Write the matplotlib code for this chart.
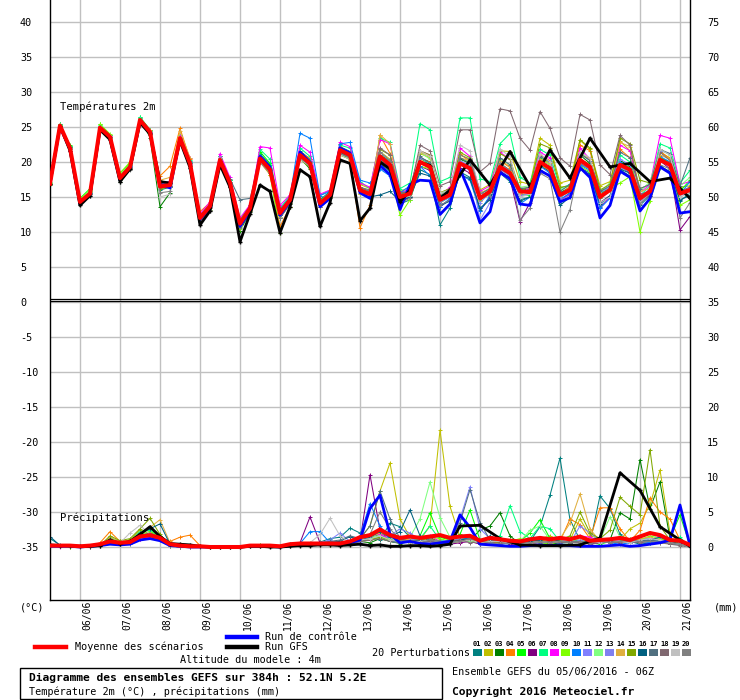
import matplotlib
matplotlib.use("Agg")
import matplotlib.pyplot as plt
from matplotlib.transforms import blended_transform_factory
from matplotlib.patches import Rectangle
from matplotlib.lines import Line2D

# ---------------- DATA ----------------
hours = list(range(0, 385, 6))                      # 65 steps, 6-hourly
gfs_t_hours = list(range(0, 241, 6)) + list(range(252, 385, 12))
gfs_p_hours = list(range(0, 241, 6)) + list(range(246, 379, 12)) + [384]

date_labels = ["06/06", "07/06", "08/06", "09/06", "10/06", "11/06", "12/06", "13/06",
               "14/06", "15/06", "16/06", "17/06", "18/06", "19/06", "20/06", "21/06"]
date_hours = [18 + 24 * i for i in range(16)]

pert_names = ["01", "02", "03", "04", "05", "06", "07", "08", "09", "10",
              "11", "12", "13", "14", "15", "16", "17", "18", "19", "20"]
pert_colors = ['#008080', '#c0c000', '#008000', '#ff8000', '#00ff00', '#800080', '#00ff80',
               '#ff00ff', '#80ff00', '#0080ff', '#8080ff', '#80ff80', '#8080f0', '#e0b040',
               '#80a800', '#006080', '#507080', '#806870', '#c0c0c0', '#808080']

t_mean = [16.9, 25.2, 22.0, 14.3, 15.5, 24.9, 23.6, 17.7, 19.3, 26.0, 24.3,
          16.5, 16.7, 23.4, 19.8, 12.0, 13.7, 20.3, 17.0, 11.2, 13.4,
          20.5, 18.9, 12.7, 14.6, 21.0, 19.8, 14.1, 15.3, 21.7, 21.0, 16.0, 15.4,
          20.8, 19.6, 15.0, 15.5, 20.0, 19.3, 14.6, 15.3, 19.8, 19.1, 14.8, 15.8,
          19.3, 18.4, 15.8, 15.7, 20.0, 19.1, 15.3, 16.0, 20.3, 19.3, 15.0, 16.0,
          19.6, 18.9, 14.8, 15.8, 20.3, 19.6, 15.5, 16.0]
t_ctrl = [16.9, 25.0, 21.8, 14.0, 15.3, 24.7, 23.4, 17.4, 19.1, 25.8, 24.1,
          16.8, 16.3, 23.2, 19.6, 11.8, 13.4, 20.0, 16.6, 10.8, 13.0,
          20.8, 19.3, 12.4, 14.3, 21.4, 20.0, 13.6, 14.8, 22.0, 21.3, 15.6, 14.8,
          19.5, 18.2, 13.2, 16.8, 17.4, 17.3, 12.5, 14.0, 19.0, 15.6, 11.3, 12.9,
          18.5, 17.6, 14.0, 13.8, 18.8, 18.0, 14.3, 14.9, 19.2, 17.8, 12.0, 13.8,
          18.7, 17.8, 13.0, 14.8, 19.3, 18.4, 12.7, 12.9]
t_gfs = [16.9, 25.2, 21.6, 13.8, 15.2, 24.6, 23.2, 17.2, 19.0, 25.6, 24.0,
         17.2, 17.0, 23.0, 19.2, 11.0, 13.0, 19.6, 16.4, 8.6, 12.6,
         16.7, 15.8, 9.9, 13.6, 18.9, 17.9, 10.8, 14.2, 20.3, 19.8, 11.6, 13.4,
         20.0, 19.0, 14.3, 16.0, 20.0, 19.5, 14.8, 16.0,
         20.3, 16.7, 21.5, 16.5, 21.7, 17.7, 23.4, 19.3, 19.8, 17.2, 17.7, 14.8]

t_p01 = [16.8, 25.3, 22.2, 14.1, 15.6, 25.0, 23.8, 17.5, 19.5, 26.2, 24.6, 16.0, 16.4, 23.6, 20.2, 12.3, 13.9, 20.8, 17.4, 11.5, 13.8, 21.2, 19.6, 13.0, 14.9, 21.6, 20.4, 14.6, 15.8, 22.2, 21.5, 16.4, 15.0, 19.8, 18.6, 14.0, 14.6, 18.9, 18.2, 11.0, 13.4, 18.6, 17.8, 13.2, 14.8, 18.4, 17.2, 14.6, 15.0, 19.5, 18.6, 14.2, 15.4, 19.2, 18.4, 13.6, 15.0, 18.9, 18.0, 13.8, 15.2, 19.4, 18.6, 14.4, 15.6]
t_p02 = [17.0, 25.1, 21.9, 14.4, 15.4, 24.8, 23.5, 17.8, 19.2, 25.9, 24.2, 16.8, 16.9, 23.2, 19.5, 11.8, 13.5, 20.0, 16.8, 11.0, 13.2, 20.2, 18.6, 12.4, 14.4, 20.8, 19.5, 14.3, 15.6, 22.0, 21.4, 16.8, 16.2, 21.5, 20.4, 15.8, 16.4, 21.2, 20.6, 15.6, 16.2, 21.0, 20.4, 16.0, 16.8, 21.6, 21.5, 17.2, 16.8, 23.4, 22.4, 17.0, 17.4, 23.1, 21.8, 16.6, 17.2, 23.0, 21.6, 16.2, 16.8, 21.4, 20.6, 16.4, 16.6]
t_p03 = [16.7, 25.4, 22.3, 14.5, 15.7, 25.2, 23.9, 17.2, 19.0, 26.3, 23.5, 13.6, 15.6, 23.0, 19.4, 11.6, 13.2, 20.6, 17.2, 10.2, 12.8, 20.3, 18.4, 12.0, 14.0, 20.6, 19.0, 13.8, 15.0, 21.0, 20.6, 15.8, 15.6, 20.2, 19.4, 15.4, 15.8, 20.6, 20.0, 15.2, 15.6, 20.4, 19.8, 15.0, 16.0, 19.8, 18.8, 16.2, 16.0, 20.4, 19.6, 15.6, 16.4, 21.0, 19.8, 15.4, 16.4, 20.2, 19.4, 15.2, 16.0, 20.6, 19.8, 15.8, 16.2]
t_p04 = [16.9, 25.2, 22.1, 14.6, 15.8, 25.0, 23.7, 17.9, 19.6, 26.1, 24.4, 18.0, 19.4, 24.8, 20.4, 12.9, 14.2, 20.0, 16.4, 11.0, 13.0, 20.0, 18.2, 10.8, 13.6, 21.4, 20.5, 13.6, 14.8, 22.6, 20.0, 10.6, 13.8, 23.8, 21.2, 15.4, 15.2, 20.4, 20.0, 14.0, 15.6, 21.2, 20.0, 14.4, 16.2, 20.2, 19.2, 15.6, 16.0, 21.0, 20.2, 15.2, 16.6, 22.4, 21.6, 15.8, 16.4, 21.8, 20.6, 14.8, 15.8, 21.6, 20.4, 15.6, 16.0]
t_p05 = [17.0, 25.3, 22.4, 14.8, 16.2, 25.4, 23.9, 18.4, 19.8, 26.4, 24.6, 16.2, 16.9, 23.5, 20.0, 12.4, 13.9, 20.9, 17.5, 11.8, 13.7, 21.5, 19.8, 13.3, 14.8, 21.2, 20.2, 14.5, 15.5, 21.8, 21.0, 16.4, 15.6, 21.0, 20.2, 14.6, 15.0, 20.6, 19.6, 14.2, 15.0, 19.8, 19.4, 14.6, 15.4, 19.6, 18.6, 15.4, 15.2, 20.6, 19.8, 15.0, 16.0, 20.4, 19.6, 15.0, 16.2, 19.8, 19.2, 14.6, 15.8, 20.6, 20.0, 15.8, 17.4]
t_p06 = [16.9, 25.0, 21.8, 14.2, 15.4, 24.8, 23.4, 17.6, 19.2, 25.9, 24.2, 16.6, 16.6, 23.3, 19.7, 11.9, 13.6, 20.2, 16.9, 11.0, 13.3, 20.6, 19.0, 12.5, 14.4, 21.2, 19.9, 13.9, 15.1, 21.4, 21.2, 16.2, 15.0, 20.4, 19.2, 14.2, 15.0, 19.4, 18.8, 13.6, 14.6, 19.2, 18.4, 13.0, 15.0, 18.8, 17.6, 11.5, 14.2, 19.6, 18.6, 14.4, 15.6, 19.8, 19.0, 14.2, 15.2, 19.4, 18.4, 14.4, 15.2, 20.2, 19.0, 10.3, 12.2]
t_p07 = [17.1, 25.4, 22.3, 14.6, 15.8, 25.3, 23.9, 18.0, 19.6, 26.4, 24.6, 16.9, 17.2, 23.9, 20.3, 12.4, 14.0, 20.9, 17.5, 11.6, 13.8, 21.8, 20.4, 13.4, 15.2, 22.0, 20.8, 15.2, 16.0, 22.4, 22.0, 17.2, 16.2, 23.4, 22.8, 16.2, 17.0, 25.5, 24.6, 17.2, 17.8, 26.3, 26.3, 17.6, 17.2, 22.6, 24.1, 17.8, 17.0, 21.8, 21.0, 16.2, 16.8, 21.2, 20.4, 15.6, 16.4, 21.0, 20.0, 15.2, 16.6, 22.6, 22.0, 17.0, 18.8]
t_p08 = [16.8, 25.1, 21.6, 14.3, 15.5, 25.1, 23.7, 17.8, 19.4, 26.0, 24.3, 16.7, 17.3, 23.7, 20.6, 12.6, 14.3, 21.2, 17.8, 12.0, 13.9, 22.2, 22.0, 13.8, 15.3, 22.4, 21.4, 15.4, 16.0, 22.8, 22.2, 17.0, 16.4, 23.2, 22.6, 15.6, 16.2, 21.6, 21.0, 15.2, 16.4, 22.0, 20.8, 15.8, 16.6, 21.4, 20.4, 15.4, 16.4, 21.4, 20.6, 14.6, 15.4, 22.0, 20.4, 13.4, 15.0, 22.4, 21.6, 15.6, 16.8, 23.8, 23.4, 16.8, 17.2]
t_p09 = [16.9, 25.3, 22.2, 14.7, 16.0, 25.4, 24.0, 18.4, 20.0, 26.2, 24.5, 16.4, 17.0, 23.4, 19.9, 12.2, 13.8, 20.4, 16.8, 10.4, 13.0, 20.4, 18.2, 9.9, 13.6, 20.6, 19.8, 13.8, 15.0, 21.0, 20.4, 15.4, 15.0, 20.2, 19.0, 12.4, 14.6, 19.4, 19.0, 14.4, 15.2, 19.8, 19.2, 14.6, 15.6, 19.4, 18.8, 15.2, 15.4, 19.6, 18.8, 15.0, 15.8, 19.4, 18.6, 14.8, 16.2, 17.0, 17.9, 10.0, 14.4, 19.2, 18.6, 13.8, 14.6]
t_p10 = [16.9, 25.2, 22.0, 14.2, 15.5, 24.9, 23.6, 17.7, 19.4, 26.0, 24.4, 16.2, 16.8, 23.5, 20.0, 12.2, 13.8, 20.4, 17.2, 11.4, 13.6, 20.8, 19.2, 13.1, 15.0, 24.1, 23.4, 15.2, 15.8, 22.6, 22.8, 17.4, 17.0, 19.0, 18.0, 15.6, 16.6, 19.4, 18.0, 13.6, 14.8, 18.2, 17.4, 13.0, 15.2, 19.0, 18.0, 14.0, 15.0, 19.4, 18.4, 14.6, 15.6, 19.6, 18.8, 13.4, 14.8, 20.0, 19.0, 14.2, 15.6, 20.8, 20.0, 15.4, 17.2]
t_p11 = [16.8, 25.1, 21.9, 14.3, 15.4, 24.8, 23.5, 17.6, 19.2, 25.8, 24.2, 16.4, 16.5, 23.1, 19.6, 11.8, 13.5, 20.1, 16.8, 11.0, 13.2, 20.4, 18.8, 12.4, 14.4, 20.8, 19.6, 14.0, 15.2, 21.4, 20.8, 15.8, 15.2, 21.4, 20.2, 14.8, 15.4, 20.6, 19.8, 14.2, 15.0, 20.2, 19.4, 11.7, 14.2, 19.6, 18.8, 15.0, 15.6, 20.8, 20.0, 15.4, 16.2, 21.2, 20.2, 15.6, 16.4, 20.4, 19.6, 15.0, 16.2, 21.6, 21.2, 15.2, 15.8]
t_p12 = [17.0, 25.3, 22.1, 14.6, 15.9, 25.1, 23.8, 18.0, 19.6, 26.2, 24.4, 16.6, 16.9, 23.4, 19.9, 12.2, 14.0, 20.6, 17.2, 11.4, 13.6, 20.6, 19.2, 12.9, 14.8, 21.2, 20.0, 14.4, 15.4, 21.8, 21.2, 16.2, 15.6, 20.6, 19.6, 15.2, 15.8, 21.4, 20.4, 15.4, 16.0, 20.6, 20.0, 15.2, 16.4, 20.4, 19.6, 16.4, 16.6, 20.4, 19.6, 16.0, 16.6, 20.2, 19.6, 15.8, 17.0, 19.4, 18.6, 15.8, 17.2, 21.8, 21.0, 16.6, 17.8]
t_p13 = [16.9, 25.1, 22.0, 14.4, 15.6, 24.9, 23.6, 17.8, 19.3, 26.1, 24.3, 16.8, 16.9, 23.5, 19.8, 12.0, 13.6, 20.4, 17.0, 11.2, 13.4, 20.4, 19.0, 12.6, 14.6, 20.8, 19.6, 14.2, 15.4, 21.6, 20.8, 16.2, 15.4, 20.4, 19.6, 15.0, 15.2, 19.8, 19.2, 14.8, 15.4, 19.6, 18.8, 14.2, 15.6, 19.0, 18.0, 15.2, 15.4, 19.8, 19.0, 14.8, 16.0, 20.4, 19.4, 15.2, 16.0, 19.2, 18.6, 14.6, 15.8, 20.4, 19.8, 15.8, 16.4]
t_p14 = [16.9, 25.2, 22.0, 14.4, 15.4, 25.0, 23.6, 17.6, 19.2, 25.9, 24.6, 17.4, 17.8, 24.4, 20.6, 12.0, 13.4, 20.0, 16.6, 10.8, 13.0, 20.0, 18.4, 12.2, 14.2, 20.6, 19.4, 13.8, 15.0, 21.4, 20.6, 15.4, 15.2, 23.9, 22.6, 14.8, 15.4, 21.4, 20.8, 14.8, 15.2, 20.6, 20.2, 15.6, 16.2, 20.2, 19.4, 15.6, 16.0, 20.4, 19.8, 15.4, 16.2, 21.2, 20.4, 15.4, 16.0, 22.8, 22.2, 15.8, 16.2, 21.0, 20.4, 15.4, 15.8]
t_p15 = [16.9, 25.1, 21.9, 14.2, 15.4, 24.7, 23.4, 17.4, 19.0, 25.8, 24.0, 16.2, 16.4, 23.0, 19.4, 11.6, 13.2, 19.9, 16.6, 10.8, 13.0, 20.0, 18.4, 12.2, 14.2, 20.4, 19.2, 13.6, 14.8, 21.0, 20.4, 15.6, 15.0, 21.8, 21.0, 15.4, 15.8, 21.6, 21.0, 15.6, 16.2, 21.4, 20.6, 15.2, 15.8, 21.2, 20.4, 16.0, 16.4, 22.6, 22.0, 16.4, 16.6, 23.2, 22.0, 16.0, 16.8, 23.4, 22.6, 17.4, 17.0, 20.6, 19.6, 15.6, 16.0]
t_p16 = [16.8, 25.2, 22.1, 14.3, 15.6, 25.0, 23.6, 17.6, 19.3, 26.0, 24.2, 16.4, 16.6, 23.3, 19.8, 12.0, 13.7, 20.2, 17.0, 11.2, 13.4, 20.4, 18.8, 12.5, 14.4, 20.8, 19.6, 14.0, 15.2, 21.4, 20.6, 16.0, 15.0, 15.3, 15.8, 14.4, 15.0, 18.4, 18.0, 13.8, 14.4, 18.2, 17.6, 13.4, 14.6, 18.6, 17.8, 14.4, 15.0, 18.8, 18.0, 13.8, 15.0, 19.0, 18.2, 14.0, 15.2, 19.0, 18.4, 14.8, 15.6, 19.4, 18.6, 14.6, 15.2]
t_p17 = [16.9, 25.0, 21.8, 14.2, 15.5, 24.8, 23.4, 17.6, 19.1, 25.8, 24.1, 16.6, 16.5, 23.0, 19.6, 12.4, 13.8, 20.2, 17.6, 14.6, 14.8, 20.2, 18.8, 13.2, 14.8, 20.6, 19.4, 14.4, 15.2, 21.6, 21.0, 16.4, 15.8, 21.0, 20.0, 15.6, 15.8, 20.8, 19.8, 15.2, 15.8, 20.6, 19.8, 15.4, 16.2, 20.6, 19.6, 16.2, 16.4, 20.8, 20.0, 15.8, 16.8, 21.2, 20.2, 15.8, 16.6, 21.4, 20.6, 16.2, 16.8, 21.8, 21.2, 16.6, 20.6]
t_p18 = [16.9, 25.2, 22.0, 14.3, 15.5, 24.9, 23.6, 17.7, 19.3, 26.0, 24.3, 16.5, 16.7, 23.4, 19.9, 12.1, 13.8, 20.4, 17.1, 11.3, 13.5, 20.6, 19.0, 12.8, 14.7, 21.2, 20.0, 14.2, 15.4, 21.8, 21.2, 16.4, 16.0, 22.0, 21.0, 15.6, 15.8, 22.4, 21.6, 16.6, 17.2, 24.6, 24.6, 18.6, 19.8, 27.6, 27.3, 23.4, 21.7, 27.2, 24.8, 20.6, 19.4, 26.8, 26.0, 19.6, 18.2, 23.8, 22.4, 15.4, 15.8, 21.4, 20.2, 15.8, 16.4]
t_p19 = [16.9, 25.1, 21.9, 14.1, 15.3, 24.7, 23.4, 17.4, 19.0, 25.8, 24.0, 15.0, 15.4, 22.8, 19.0, 11.6, 13.2, 19.8, 16.6, 10.8, 13.0, 20.0, 18.4, 12.2, 14.2, 20.4, 19.4, 13.8, 14.9, 21.0, 20.4, 15.6, 15.2, 20.8, 19.8, 14.6, 15.2, 21.6, 20.8, 15.6, 16.0, 22.4, 21.6, 15.4, 15.6, 21.8, 20.8, 15.0, 15.4, 21.2, 20.0, 14.4, 15.2, 21.4, 20.6, 14.2, 15.0, 19.6, 18.8, 14.2, 15.6, 21.8, 21.0, 15.0, 15.6]
t_p20 = [16.9, 25.0, 21.8, 14.0, 15.2, 24.6, 23.3, 17.2, 18.9, 25.7, 23.9, 15.6, 15.8, 23.0, 19.2, 11.4, 13.0, 19.8, 16.4, 10.6, 12.8, 20.0, 18.4, 12.0, 14.0, 20.6, 19.4, 13.6, 14.8, 21.2, 20.6, 15.8, 15.0, 21.4, 20.2, 14.2, 14.8, 19.8, 19.6, 13.8, 14.6, 21.0, 20.4, 15.6, 15.2, 19.8, 18.8, 11.7, 13.4, 18.4, 17.6, 10.0, 13.2, 19.8, 19.0, 14.8, 16.0, 18.6, 17.8, 14.0, 15.4, 19.6, 19.0, 12.0, 14.2]

p_mean = [0.2, 0.2, 0.2, 0.1, 0.2, 0.4, 0.8, 0.6, 0.7, 1.5, 1.7, 1.3, 0.4, 0.2, 0.1, 0.1, 0, 0, 0, 0, 0.2, 0.2, 0.2, 0.1, 0.4, 0.5, 0.5, 0.5, 0.5, 0.5, 0.8, 1.4, 1.7, 2.5, 1.7, 1.3, 1.5, 1.3, 1.5, 1.7, 1.3, 1.5, 1.6, 0.9, 1.3, 1.1, 0.9, 0.8, 1.1, 1.3, 1.1, 1.3, 1.1, 1.5, 0.9, 1.0, 1.1, 1.3, 1.0, 1.5, 2.0, 1.7, 1.0, 0.9, 0.3]
p_ctrl = [0.1, 0.1, 0.1, 0, 0.1, 0.2, 0.4, 0.3, 0.4, 1.0, 1.2, 0.9, 0.2, 0.1, 0, 0, 0, 0, 0, 0, 0.1, 0.1, 0.1, 0, 0.2, 0.3, 0.4, 0.5, 0.4, 0.4, 0.6, 1.0, 5.5, 7.4, 1.8, 0.6, 0.8, 0.5, 0.4, 0.6, 0.8, 4.6, 2.8, 0.4, 0.3, 0.2, 0.1, 0.1, 0.2, 0.3, 0.2, 0.3, 0.2, 0.1, 0.1, 0.1, 0.2, 0.3, 0.1, 0.2, 0.4, 0.6, 1.0, 6.0, 0.2]
p_gfs = [0.3, 0.2, 0.2, 0.1, 0.1, 0.2, 1.0, 0.5, 0.8, 1.8, 2.9, 1.5, 0.5, 0.4, 0.3, 0.1, 0, 0, 0, 0, 0.1, 0.1, 0, 0, 0.1, 0.2, 0.2, 0.3, 0.3, 0.2, 0.3, 0.4, 0.2, 0.3, 0.1, 0.1, 0.2, 0.2, 0.1, 0.2, 0.4,
         3.0, 3.1, 1.2, 0.3, 0.2, 0.2, 0.3, 1.3, 10.6, 8.1, 2.9, 1.0, 0.1]

p_p01 = [1.2, 0.3, 0.1, 0, 0, 0.2, 1.2, 0.8, 0.5, 1.4, 1.8, 1.6, 0.3, 0, 0, 0, 0, 0, 0, 0, 0.2, 0.3, 0.1, 0, 0.5, 0.6, 0.4, 0.7, 1.2, 1.4, 2.7, 2.0, 1.4, 1.0, 3.4, 2.9, 1.4, 0.8, 0.6, 0.4, 0.5, 0.8, 1.0, 0.4, 1.2, 1.0, 0.6, 0.4, 0.8, 2.9, 7.4, 12.7, 3.9, 1.0, 0.6, 7.3, 5.5, 1.8, 0.8, 0.4, 0.6, 0.8, 0.5, 0.3, 0]
p_p02 = [0.1, 0.1, 0.1, 0, 0, 0.2, 0.8, 0.6, 1.0, 2.4, 2.0, 1.2, 0.3, 0, 0, 0, 0, 0, 0, 0, 0.2, 0.1, 0.1, 0, 0.3, 0.4, 0.3, 0.6, 0.4, 0.3, 0.6, 1.2, 3.0, 8.0, 12.0, 4.0, 1.4, 1.0, 3.0, 16.7, 5.8, 1.4, 0.8, 0.6, 1.0, 0.8, 0.6, 0.5, 0.8, 1.2, 1.6, 0.8, 1.0, 4.0, 1.6, 1.2, 0.8, 1.0, 2.6, 3.4, 6.0, 11.0, 2.0, 0.6, 0]
p_p03 = [0.2, 0.1, 0, 0, 0, 0.1, 1.0, 0.4, 0.6, 1.6, 2.2, 1.5, 0.3, 0, 0, 0, 0, 0, 0, 0, 0.1, 0.2, 0.1, 0, 0.2, 0.3, 0.5, 0.4, 0.6, 0.4, 0.4, 0.8, 0.6, 1.2, 0.8, 0.5, 0.8, 0.6, 1.0, 0.8, 0.6, 0.9, 1.0, 2.4, 3.0, 4.9, 1.6, 0.4, 0.6, 0.8, 0.4, 0.6, 0.6, 0.8, 0.4, 0.8, 1.0, 4.9, 4.0, 12.5, 5.5, 9.3, 1.2, 0.4, 0]
p_p04 = [0.2, 0.1, 0.1, 0, 0.1, 0.6, 2.2, 0.8, 0.6, 1.4, 1.6, 1.2, 0.8, 1.4, 1.7, 0.2, 0, 0, 0, 0, 0.2, 0.1, 0.2, 0.1, 0.3, 0.4, 0.6, 0.5, 0.4, 0.3, 0.8, 1.4, 1.6, 2.0, 1.4, 1.0, 0.8, 1.2, 0.6, 0.8, 0.6, 1.0, 1.4, 0.6, 0.8, 0.4, 0.8, 0.6, 0.4, 0.8, 0.6, 0.8, 4.0, 3.2, 1.2, 5.6, 5.6, 2.6, 0.8, 2.4, 7.0, 5.0, 4.0, 1.0, 0]
p_p05 = [0.1, 0.1, 0.1, 0, 0, 0.2, 1.3, 0.6, 0.8, 2.0, 2.6, 1.6, 0.2, 0, 0, 0, 0, 0, 0, 0, 0.1, 0.2, 0.1, 0.1, 0.3, 0.4, 0.3, 0.4, 0.5, 0.6, 0.5, 1.0, 1.4, 1.8, 1.0, 0.8, 1.2, 1.6, 4.9, 1.4, 1.0, 1.8, 5.3, 1.0, 0.8, 0.6, 0.4, 0.8, 2.0, 3.9, 1.2, 0.6, 0.8, 1.0, 0.6, 0.4, 0.8, 0.6, 1.2, 1.0, 1.4, 0.8, 1.2, 4.6, 0.2]
p_p06 = [0.1, 0.1, 0.1, 0, 0, 0.2, 0.9, 0.5, 0.6, 1.2, 1.5, 1.2, 0.2, 0, 0, 0, 0, 0, 0, 0, 0.1, 0.1, 0.1, 0, 0.3, 0.6, 4.3, 0.6, 0.3, 0.4, 0.5, 0.8, 10.3, 2.4, 0.8, 0.6, 0.8, 0.4, 1.4, 0.6, 0.4, 0.6, 0.8, 0.4, 0.6, 0.8, 0.4, 0.4, 0.6, 0.8, 0.6, 1.0, 0.8, 1.2, 0.4, 0.6, 0.8, 0.6, 0.8, 1.0, 0.8, 1.2, 0.4, 0.6, 0]
p_p07 = [0.1, 0.1, 0.1, 0, 0, 0.2, 1.1, 0.7, 0.9, 2.2, 2.4, 1.4, 0.2, 0, 0, 0, 0, 0, 0, 0, 0.1, 0.2, 0.1, 0, 0.2, 0.3, 0.4, 0.5, 0.4, 0.5, 0.6, 1.0, 1.2, 1.6, 0.8, 0.6, 0.8, 1.2, 3.0, 1.0, 0.8, 1.0, 1.4, 0.8, 1.0, 1.6, 5.9, 2.2, 1.2, 3.0, 2.6, 0.8, 0.6, 0.8, 0.6, 0.8, 1.0, 0.8, 1.0, 1.2, 1.2, 1.0, 0.8, 1.4, 0]
p_p08 = [0.1, 0, 0.1, 0, 0, 0.2, 0.7, 0.4, 0.6, 1.2, 1.4, 1.0, 0.2, 0, 0, 0, 0, 0, 0, 0, 0.2, 0.1, 0.1, 0, 0.2, 0.3, 0.4, 0.3, 0.5, 0.4, 0.6, 1.2, 1.6, 1.8, 1.2, 1.4, 1.0, 0.8, 1.6, 0.8, 0.6, 0.8, 1.0, 0.6, 0.8, 0.6, 0.8, 0.4, 0.6, 0.8, 0.8, 1.2, 1.0, 1.6, 1.4, 0.8, 1.2, 0.8, 0.6, 0.8, 1.0, 1.6, 0.8, 0.4, 0]
p_p09 = [0.1, 0.1, 0, 0, 0, 0.2, 1.0, 0.6, 0.8, 1.8, 2.2, 1.4, 0.3, 0, 0, 0, 0, 0, 0, 0, 0.1, 0.3, 0.1, 0, 0.2, 0.3, 0.4, 0.4, 0.3, 0.5, 0.4, 0.9, 1.2, 1.4, 1.0, 0.8, 0.6, 1.0, 1.4, 1.2, 0.8, 1.2, 1.6, 0.8, 0.6, 0.4, 0.8, 1.2, 0.8, 0.6, 0.4, 0.8, 1.0, 1.4, 1.0, 0.6, 1.2, 1.4, 0.8, 1.0, 1.6, 1.2, 0.8, 0.4, 0]
p_p10 = [0.1, 0.1, 0.1, 0, 0, 0.2, 0.9, 0.5, 0.7, 1.4, 1.6, 1.0, 0.2, 0, 0, 0, 0, 0, 0, 0, 0.1, 0.1, 0.1, 0, 0.2, 0.5, 2.2, 2.2, 0.6, 0.4, 0.6, 1.6, 6.2, 3.0, 1.0, 0.6, 0.8, 0.6, 0.8, 0.6, 0.6, 1.0, 1.4, 0.8, 0.6, 0.4, 0.6, 0.8, 0.6, 0.8, 0.6, 1.0, 0.8, 1.4, 0.6, 0.8, 0.6, 0.4, 0.6, 0.8, 0.6, 0.8, 0.6, 1.0, 0]
p_p11 = [0.1, 0.1, 0.1, 0, 0, 0.2, 1.0, 0.5, 0.6, 1.3, 1.6, 1.2, 0.2, 0, 0, 0, 0, 0, 0, 0, 0.1, 0.1, 0.1, 0, 0.3, 0.4, 0.5, 0.6, 1.0, 2.0, 0.8, 0.6, 1.2, 2.6, 2.0, 1.4, 1.2, 0.8, 0.6, 0.8, 1.0, 4.0, 8.6, 2.6, 1.2, 0.8, 0.6, 0.4, 0.6, 0.8, 0.6, 0.8, 0.6, 1.0, 0.8, 0.6, 0.8, 0.6, 0.8, 1.0, 1.2, 1.0, 0.6, 0.4, 0]
p_p12 = [0.1, 0.1, 0.1, 0, 0, 0.2, 1.2, 0.7, 0.8, 1.8, 2.0, 1.4, 0.2, 0, 0, 0, 0, 0, 0, 0, 0.1, 0.1, 0.1, 0, 0.2, 0.4, 0.3, 0.4, 0.5, 0.6, 0.6, 1.0, 1.2, 1.4, 1.2, 1.0, 1.4, 4.0, 9.3, 4.2, 1.4, 1.0, 0.8, 0.6, 1.0, 0.8, 0.6, 0.8, 2.4, 3.0, 1.0, 0.6, 0.8, 1.2, 0.6, 1.0, 4.3, 1.4, 0.8, 1.6, 2.0, 1.0, 0.6, 0.4, 0]
p_p13 = [0.1, 0.1, 0.1, 0, 0, 0.2, 0.8, 0.6, 0.7, 1.6, 1.8, 1.2, 0.2, 0, 0, 0, 0, 0, 0, 0, 0.2, 0.1, 0.1, 0, 0.3, 0.4, 0.5, 0.4, 0.8, 0.6, 0.6, 0.8, 1.4, 2.4, 1.6, 2.6, 2.0, 1.0, 0.8, 0.6, 0.8, 1.2, 1.6, 0.8, 0.6, 0.4, 0.6, 0.8, 0.6, 0.8, 0.6, 0.8, 0.6, 3.0, 2.0, 0.8, 0.6, 0.8, 0.6, 0.8, 1.0, 0.8, 0.6, 0.4, 0]
p_p14 = [0.1, 0.1, 0.1, 0, 0, 0.3, 1.4, 0.8, 1.0, 2.0, 2.8, 3.9, 0.6, 0.1, 0, 0, 0, 0, 0, 0, 0.1, 0.2, 0.1, 0, 0.2, 0.3, 0.4, 0.3, 0.4, 0.5, 0.5, 1.2, 1.4, 2.0, 1.6, 1.2, 1.0, 0.8, 1.0, 0.8, 0.6, 0.8, 1.2, 0.6, 0.8, 1.0, 0.8, 0.6, 0.8, 1.0, 0.8, 1.2, 3.4, 7.6, 2.6, 0.8, 1.0, 0.6, 0.8, 1.2, 1.4, 1.0, 0.8, 0.4, 0]
p_p15 = [0.1, 0.1, 0.1, 0, 0, 0.2, 1.6, 0.9, 1.2, 2.6, 4.1, 1.8, 0.3, 0, 0, 0, 0, 0, 0, 0, 0.2, 0.1, 0.1, 0, 0.2, 0.3, 0.4, 0.4, 0.3, 0.5, 0.6, 0.8, 1.0, 1.4, 1.0, 0.8, 0.6, 1.0, 1.2, 0.8, 0.6, 0.8, 1.0, 0.6, 0.8, 0.6, 0.8, 0.6, 0.8, 1.0, 0.6, 1.0, 1.6, 5.0, 2.0, 1.2, 2.4, 7.1, 5.8, 4.6, 13.9, 3.0, 1.0, 0.4, 0]
p_p16 = [1.5, 0.2, 0.1, 0, 0, 0.2, 1.0, 0.6, 0.8, 2.0, 2.6, 3.3, 0.4, 0, 0, 0, 0, 0, 0, 0, 0.1, 0.1, 0.1, 0, 0.3, 0.4, 0.5, 0.6, 0.7, 0.8, 1.5, 1.0, 1.4, 2.2, 1.4, 2.2, 5.3, 1.6, 1.0, 0.8, 0.6, 1.0, 1.2, 0.8, 1.6, 1.0, 0.8, 0.6, 0.8, 1.0, 1.2, 0.8, 0.6, 0.8, 0.6, 1.0, 0.8, 1.2, 0.6, 0.8, 1.0, 1.4, 0.8, 0.4, 0]
p_p17 = [0.2, 0.1, 0.1, 0, 0, 0.2, 1.1, 0.6, 0.7, 1.6, 2.0, 1.4, 0.3, 0, 0, 0, 0, 0, 0, 0, 0.2, 0.1, 0.1, 0, 0.3, 0.4, 0.5, 0.6, 0.8, 1.0, 1.6, 1.2, 3.0, 8.0, 4.0, 1.2, 0.8, 1.0, 0.8, 0.6, 1.0, 3.5, 8.2, 3.5, 1.0, 0.8, 0.6, 0.4, 0.6, 0.8, 0.6, 0.8, 0.6, 0.8, 0.6, 0.8, 0.6, 0.8, 1.0, 0.8, 1.0, 0.8, 0.6, 0.4, 0]
p_p18 = [0.1, 0.1, 0.1, 0, 0, 0.2, 0.8, 0.5, 0.6, 1.4, 1.6, 1.2, 0.2, 0, 0, 0, 0, 0, 0, 0, 0.1, 0.1, 0.1, 0, 0.2, 0.3, 0.4, 0.3, 0.4, 0.5, 0.4, 0.8, 1.0, 1.2, 0.8, 0.6, 0.8, 0.6, 0.8, 0.6, 0.8, 1.0, 0.6, 0.8, 1.2, 0.6, 0.8, 0.6, 0.4, 0.6, 0.8, 0.6, 0.8, 0.6, 0.4, 0.6, 0.8, 0.6, 0.8, 0.6, 0.8, 0.6, 0.4, 0.2, 0]
p_p19 = [0.1, 0.1, 0.1, 0, 0, 0.2, 0.8, 0.6, 2.0, 3.1, 1.8, 1.0, 0.2, 0, 0, 0, 0, 0, 0, 0, 0.1, 0.1, 0.1, 0, 0.2, 0.3, 0.6, 1.8, 4.1, 1.6, 0.6, 1.0, 1.2, 1.6, 1.0, 0.8, 0.6, 0.8, 1.0, 0.8, 0.6, 0.8, 1.0, 0.6, 0.8, 0.8, 0.6, 0.4, 0.6, 0.8, 0.6, 0.8, 1.0, 1.2, 0.8, 0.6, 1.0, 0.8, 0.6, 1.0, 1.2, 1.0, 0.6, 0.4, 0]
p_p20 = [0.1, 0.1, 0.1, 0, 0, 0.2, 0.9, 0.6, 0.8, 1.6, 1.8, 1.2, 0.2, 0, 0, 0, 0, 0, 0, 0, 0.1, 0.1, 0.1, 0, 0.2, 0.3, 0.4, 0.5, 0.4, 0.6, 0.6, 1.0, 1.8, 5.0, 2.6, 1.0, 0.8, 0.6, 1.0, 0.8, 0.6, 0.8, 1.2, 0.8, 0.6, 0.4, 0.6, 0.8, 0.6, 0.8, 0.6, 0.8, 0.6, 0.8, 0.6, 0.8, 0.6, 0.8, 1.0, 0.8, 0.8, 0.6, 0.6, 0.4, 0]

left_ticks = [40, 35, 30, 25, 20, 15, 10, 5, 0, -5, -10, -15, -20, -25, -30, -35]
right_tick_labels = ["75", "70", "65", "60", "55", "50", "45", "40",
                     "35", "30", "25", "20", "15", "10", "5", "0"]
PRECIP_ZERO = -35   # precipitation axis 0 mm sits on the -35 line

t_perts = [t_p01, t_p02, t_p03, t_p04, t_p05, t_p06, t_p07, t_p08, t_p09, t_p10,
           t_p11, t_p12, t_p13, t_p14, t_p15, t_p16, t_p17, t_p18, t_p19, t_p20]
p_perts = [p_p01, p_p02, p_p03, p_p04, p_p05, p_p06, p_p07, p_p08, p_p09, p_p10,
           p_p11, p_p12, p_p13, p_p14, p_p15, p_p16, p_p17, p_p18, p_p19, p_p20]
for s in t_perts + p_perts + [t_mean, t_ctrl, p_mean, p_ctrl]:
    assert len(s) == len(hours), len(s)
assert len(t_gfs) == len(gfs_t_hours)
assert len(p_gfs) == len(gfs_p_hours)

# ---------------- FIGURE ----------------
W, H = 740, 700
MONO = "DejaVu Sans Mono"
plt.rcParams['font.family'] = [MONO, 'DejaVu Sans']
fig = plt.figure(figsize=(W / 100, H / 100), dpi=100)
fig.patch.set_facecolor("white")

top_px, bot_px, left_px, right_px = 0, 600, 50, 690
ax = fig.add_axes([left_px / W, 1 - bot_px / H, (right_px - left_px) / W, (bot_px - top_px) / H])
px_per_unit = 7.0
y_at_zero = 302.0
ymax = (y_at_zero - top_px) / px_per_unit
ymin = (y_at_zero - bot_px) / px_per_unit
ax.set_xlim(0, 384)
ax.set_ylim(ymin, ymax)

# grid
ax.set_yticks(left_ticks)
ax.set_yticklabels([str(v) for v in left_ticks], fontsize=7.3, ha='left')
ax.set_xticks(date_hours)
ax.set_xticklabels([])
ax.grid(True, color='#c0c0c0', lw=1.0, zorder=0)
ax.set_axisbelow(True)
ax.tick_params(axis='both', length=0)
ax.tick_params(axis='y', pad=30 * 0.72)
for sp in ax.spines.values():
    sp.set_color('black')
    sp.set_linewidth(1.0)
ax.spines['top'].set_visible(False)

ax2 = ax.twinx()
ax2.set_ylim(ymin, ymax)
ax2.set_yticks(left_ticks)
ax2.set_yticklabels(right_tick_labels, fontsize=7.3, ha='left')
ax2.tick_params(axis='y', length=0, pad=17 * 0.72)
for sp in ax2.spines.values():
    sp.set_visible(False)

# separator double line
ax.axhline(0.39, color='black', lw=0.9, zorder=5)
ax.axhline(0.10, color='black', lw=0.9, zorder=5)

# perturbations
for vals, col in zip(t_perts, pert_colors):
    ax.plot(hours, vals, color=col, lw=0.75, marker='+', ms=2.8, mew=0.7, zorder=2)
for vals, col in zip(p_perts, pert_colors):
    ax.plot(hours, [v + PRECIP_ZERO for v in vals], color=col, lw=0.75,
            marker='+', ms=2.8, mew=0.7, zorder=2)

# control, GFS, mean
ax.plot(hours, t_ctrl, color='#0000ff', lw=2.0, zorder=3)
ax.plot(hours, [v + PRECIP_ZERO for v in p_ctrl], color='#0000ff', lw=2.0, zorder=3)
ax.plot(gfs_t_hours, t_gfs, color='black', lw=2.0, marker='+', ms=2.8, zorder=3)
ax.plot(gfs_p_hours, [v + PRECIP_ZERO for v in p_gfs], color='black', lw=2.0,
        marker='+', ms=2.8, zorder=3)
ax.plot(hours, t_mean, color='#ff0000', lw=2.9, zorder=4)
ax.plot(hours, [v + PRECIP_ZERO for v in p_mean], color='#ff0000', lw=2.9, zorder=4)

# panel titles
ax.text(6, (y_at_zero - 107) / px_per_unit, "Températures 2m",
        fontsize=7.6, va='center', ha='left', zorder=6)
ax.text(6, (y_at_zero - 517.5) / px_per_unit, "Précipitations",
        fontsize=7.6, va='center', ha='left', zorder=6)

# date labels (rotated, slightly right of grid lines)
trans = blended_transform_factory(ax.transData, fig.transFigure)
for h, lab in zip(date_hours, date_labels):
    ax.text(h + 4.6, 1 - 601 / H, lab, transform=trans, rotation=90, ha='center',
            va='top', fontsize=7.0, clip_on=False)

def ftext(x, y, s, **kw):
    fig.text(x / W, 1 - y / H, s, **kw)

ftext(20, 607, "(°C)", fontsize=7.3, va='center', ha='left')
ftext(714, 607, "(mm)", fontsize=7.3, va='center', ha='left')

# legend
fig.add_artist(Line2D([35 / W, 66 / W], [1 - 647 / H] * 2, color='#ff0000', lw=3.2))
ftext(75, 647, "Moyenne des scénarios", fontsize=7.3, va='center', ha='left')
fig.add_artist(Line2D([227 / W, 257 / W], [1 - 636.5 / H] * 2, color='#0000ff', lw=3.2))
ftext(265, 636.5, "Run de contrôle", fontsize=7.3, va='center', ha='left')
fig.add_artist(Line2D([227 / W, 257 / W], [1 - 646.5 / H] * 2, color='black', lw=3.2))
ftext(265, 646.5, "Run GFS", fontsize=7.3, va='center', ha='left')
ftext(180, 660, "Altitude du modele : 4m", fontsize=7.3, va='center', ha='left')
ftext(372, 652.5, "20 Perturbations", fontsize=7.3, va='center', ha='left')
for i, (name, col) in enumerate(zip(pert_names, pert_colors)):
    x0 = 472.5 + i * 11.0
    fig.add_artist(Rectangle((x0 / W, 1 - 656 / H), 9.5 / W, 7 / H,
                             transform=fig.transFigure, color=col, lw=0))
    ftext(x0 + 4.8, 643.5, name, fontsize=5.0, va='center', ha='center',
          fontweight='bold')

# bottom info box
fig.add_artist(Rectangle((20 / W, 1 - 699 / H), 422 / W, 31.5 / H,
                         transform=fig.transFigure, fill=False, ec='black', lw=1.0))
ftext(29, 678, "Diagramme des ensembles GEFS sur 384h : 52.1N 5.2E",
      fontsize=8.1, fontweight='bold', va='center', ha='left')
ftext(29, 691.5, "Température 2m (°C) , précipitations (mm)",
      fontsize=7.3, va='center', ha='left')
ftext(452, 672, "Ensemble GEFS du 05/06/2016 - 06Z", fontsize=7.3, va='center', ha='left')
ftext(452, 691.5, "Copyright 2016 Meteociel.fr", fontsize=8.1, fontweight='bold',
      va='center', ha='left')

fig.savefig("out.png", dpi=100, facecolor="white")
